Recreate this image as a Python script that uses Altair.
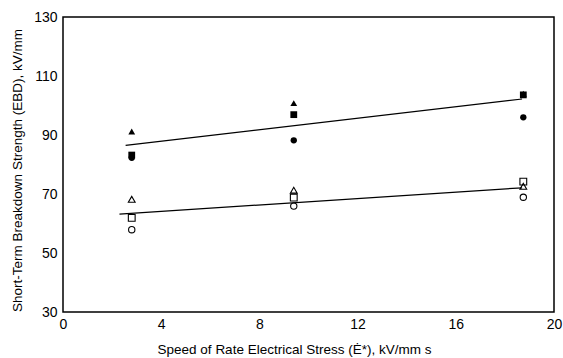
import altair as alt
import pandas as pd

# x positions (rate of electrical stress, kV/mm s)
x_vals = [2.8, 9.4, 18.75]

# measured breakdown strengths per series (kV/mm)
filled_triangle = [91.2, 100.8, 104.0]
filled_square = [83.2, 96.9, 103.6]
filled_circle = [82.3, 88.2, 96.0]
open_triangle = [68.2, 71.3, 72.6]
open_square = [61.9, 68.8, 74.2]
open_circle = [57.9, 65.9, 68.9]

# fitted lines (start / end)
upper_fit_x = [2.55, 18.7]
upper_fit_y = [86.5, 102.2]
lower_fit_x = [2.3, 18.7]
lower_fit_y = [63.2, 72.1]

series = [
    ("filled_triangle", filled_triangle, "triangle-up", True),
    ("filled_square", filled_square, "square", True),
    ("filled_circle", filled_circle, "circle", True),
    ("open_triangle", open_triangle, "triangle-up", False),
    ("open_square", open_square, "square", False),
    ("open_circle", open_circle, "circle", False),
]

font = "Liberation Sans"

xscale = alt.Scale(domain=[0, 20], nice=False)
yscale = alt.Scale(domain=[30, 130], nice=False)

xaxis = alt.Axis(values=[0, 4, 8, 12, 16, 20], ticks=False, grid=False,
                 domain=False, labelFont=font, labelFontSize=14,
                 labelColor="black", labelPadding=5, labelFlush=False,
                 title="Speed of Rate Electrical Stress (Ė*), kV/mm s",
                 titleFont=font, titleFontSize=13.5, titleFontWeight="normal",
                 titleColor="black", titlePadding=11, titleX=231)
yaxis = alt.Axis(values=[30, 50, 70, 90, 110, 130], ticks=False, grid=False,
                 domain=False, labelFont=font, labelFontSize=14,
                 labelColor="black", labelPadding=6, labelFlush=False,
                 title="Short-Term Breakdown Strength (EBD), kV/mm",
                 titleFont=font, titleFontSize=13.5, titleFontWeight="normal",
                 titleColor="black", titlePadding=9, titleY=153)

layers = []
first = True
for name, vals, shape, filled in series:
    df = pd.DataFrame({"x": x_vals, "y": vals})
    mk = alt.Chart(df).mark_point(
        shape=shape, filled=filled, color="black",
        size=46 if shape != "circle" else 40,
        strokeWidth=1.1, opacity=1)
    if first:
        enc = mk.encode(x=alt.X("x:Q", scale=xscale, axis=xaxis),
                        y=alt.Y("y:Q", scale=yscale, axis=yaxis))
        first = False
    else:
        enc = mk.encode(x=alt.X("x:Q", scale=xscale),
                        y=alt.Y("y:Q", scale=yscale))
    layers.append(enc)

for fx, fy in [(upper_fit_x, upper_fit_y), (lower_fit_x, lower_fit_y)]:
    df = pd.DataFrame({"x": fx, "y": fy})
    layers.append(alt.Chart(df).mark_line(color="black", strokeWidth=1.2).encode(
        x=alt.X("x:Q", scale=xscale), y=alt.Y("y:Q", scale=yscale)))

chart = alt.layer(*layers).properties(
    width=491, height=295,
    autosize=alt.AutoSizeParams(type="none"),
    padding={"left": 63, "top": 17, "right": 9, "bottom": 46},
    background="white",
).configure_view(stroke="black", strokeWidth=1.5)

chart.save("out.html", embed_options={"renderer": "svg", "actions": False})
